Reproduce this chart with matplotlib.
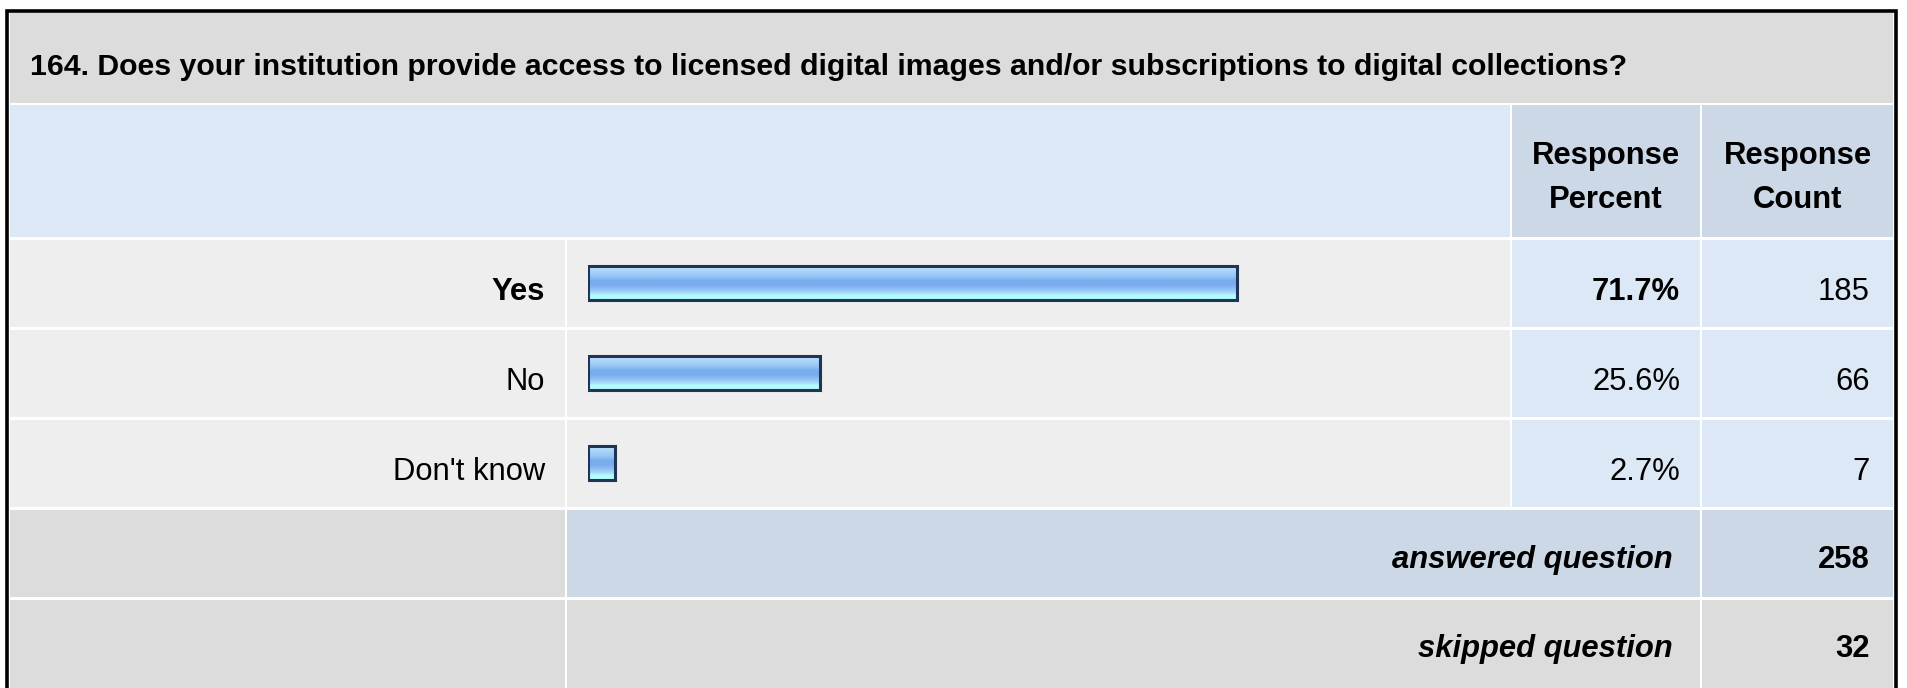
import numpy as np
import matplotlib
matplotlib.use("Agg")
from matplotlib import pyplot as plt
from matplotlib.patches import Rectangle
from matplotlib.colors import LinearSegmentedColormap

title = "164. Does your institution provide access to licensed digital images and/or subscriptions to digital collections?"
answers = ["Yes", "No", "Don't know"]
percents = [71.7, 25.6, 2.7]
counts = [185, 66, 7]
answered = 258
skipped = 32

W, H = 1907, 688
plt.rcParams['font.family'] = ['Liberation Sans', 'DejaVu Sans']
fig = plt.figure(figsize=(W / 100, H / 100), dpi=100)
fig.patch.set_facecolor('white')
ax = fig.add_axes([0, 0, 1, 1])
ax.set_xlim(0, W)
ax.set_ylim(H, 0)
ax.axis('off')

gray = '#dcdcdc'
light = '#eeeeee'
blue = '#dce8f5'
blue2 = '#ccd8e5'
fs = 22.3

def cell(x0, x1, y0, y1, c):
	ax.add_patch(Rectangle((x0, y0), x1 - x0, y1 - y0, facecolor=c, edgecolor='none'))

# column edges
xl0, xl1 = 10, 565
xb0, xb1 = 567, 1510
xp0, xp1 = 1512, 1700
xc0, xc1 = 1702, 1893

cell(xl0, xc1, 13, 103, gray)
ax.text(30, 67, title, fontsize=21.8, fontweight='bold', va='center', ha='left')

cell(xl0, xb1, 105, 237, blue)
cell(xp0, xp1, 105, 237, blue2)
cell(xc0, xc1, 105, 237, blue2)
ax.text((xp0 + xp1) / 2, 178, "Response\nPercent", fontsize=fs, fontweight='bold',
	ha='center', va='center', linespacing=1.58)
ax.text((xc0 + xc1) / 2, 178, "Response\nCount", fontsize=fs, fontweight='bold',
	ha='center', va='center', linespacing=1.58)

row_top = 240
row_h = 90
for i, (a, p, c) in enumerate(zip(answers, percents, counts)):
	y0 = row_top + i * row_h
	y1 = y0 + row_h - 3
	ym = (y0 + y1) / 2 + 8
	cell(xl0, xl1, y0, y1, light)
	cell(xb0, xb1, y0, y1, light)
	cell(xp0, xp1, y0, y1, blue)
	cell(xc0, xc1, y0, y1, blue)
	wt = 'bold' if p == max(percents) else 'normal'
	ax.text(545, ym, a, fontsize=fs, fontweight=wt, ha='right', va='center')
	ax.text(1680, ym, "%.1f%%" % p, fontsize=fs, fontweight=wt, ha='right', va='center')
	ax.text(1870, ym, str(c), fontsize=fs, ha='right', va='center')

ya0 = row_top + 3 * row_h
cell(xl0, xl1, ya0, ya0 + 87, gray)
cell(xb0, xp1, ya0, ya0 + 87, blue2)
cell(xc0, xc1, ya0, ya0 + 87, blue2)
ax.text(1673, ya0 + 50, "answered question", fontsize=fs, fontweight='bold', style='italic',
	ha='right', va='center')
ax.text(1870, ya0 + 50, str(answered), fontsize=fs, fontweight='bold', ha='right', va='center')

ys0 = ya0 + 90
cell(xl0, xl1, ys0, H, gray)
cell(xb0, xp1, ys0, H, gray)
cell(xc0, xc1, ys0, H, gray)
ax.text(1673, ys0 + 49, "skipped question", fontsize=fs, fontweight='bold', style='italic',
	ha='right', va='center')
ax.text(1870, ys0 + 49, str(skipped), fontsize=fs, fontweight='bold', ha='right', va='center')

# outer frame
ax.plot([7, 7, 1896, 1896], [H + 5, 11, 11, H + 5], color='black', lw=2.6,
	solid_joinstyle='miter', clip_on=False)

# bar area: 100% spans ~905 px starting at x=588
bx0 = 588
bw = 905
bax = fig.add_axes([bx0 / W, 1 - (row_top + 3 * row_h - 2) / H, bw / W, (3 * row_h) / H])
bax.axis('off')
bax.patch.set_alpha(0)

grad = LinearSegmentedColormap.from_list('bar', [
	(0.0, '#cde8fd'), (0.15, '#acd5fa'), (0.3, '#99c7f7'), (0.45, '#78acee'),
	(0.58, '#7aaeee'), (0.7, '#92c3f5'), (0.8, '#a7d8f9'), (0.87, '#b2fcfd'), (1.0, '#b2fcfd')])
bh = 0.38
ypos = np.arange(len(answers))
for y, p in zip(ypos, percents):
	bax.imshow(np.linspace(0, 1, 64).reshape(-1, 1), cmap=grad, aspect='auto',
		extent=(0, max(p, 3.0), y + bh / 2, y - bh / 2), interpolation='bilinear')
bax.barh(ypos, [max(p, 3.0) for p in percents], height=bh, left=0,
	facecolor='none', edgecolor='#1e3556', linewidth=2.2)
bax.set_xlim(0, 100)
bax.set_ylim(2.5, -0.5)

fig.savefig('out.png', dpi=100)
